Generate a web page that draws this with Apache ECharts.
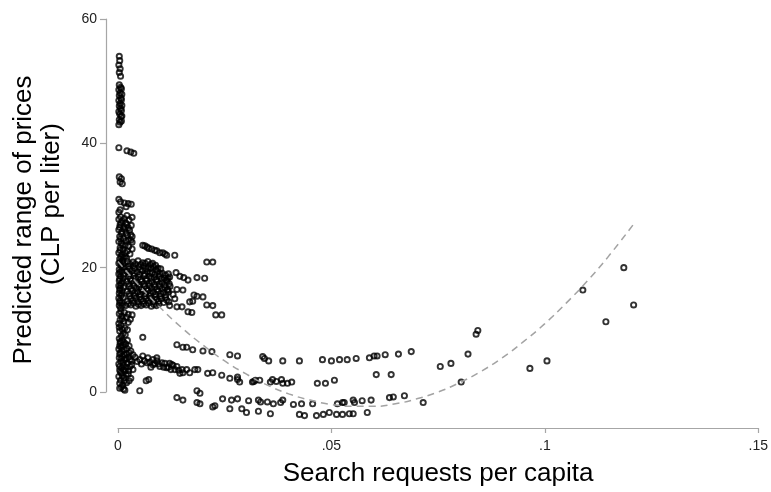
<!DOCTYPE html>
<html>
<head>
<meta charset="utf-8">
<script src="https://cdn.jsdelivr.net/npm/echarts@6/dist/echarts.min.js"></script>
<style>
html,body{margin:0;padding:0;background:#fff;}
#chart{width:771px;height:492px;}
</style>
</head>
<body>
<div id="chart"></div>
<script>
// ---- data (x = search requests per capita, y = predicted range) ----
var colTop = [
[0.0003,54.0],[0.0004,53.3],[0.0002,52.6],[0.0005,52.0],[0.0003,51.4],[0.0006,50.8],
[0.0003,49.4],[0.0006,49.0],[0.0002,48.6],[0.0005,48.1],[0.0003,47.7],[0.0007,47.3],
[0.0002,46.9],[0.0005,46.4],[0.0003,46.0],[0.0006,45.6],[0.0002,45.1],[0.0004,44.7],
[0.0007,44.3],[0.0003,43.8],[0.0005,43.4],[0.0002,43.0],
[0.0008,48.8],[0.0009,47.9],[0.0008,47.0],[0.0009,46.1],[0.0008,45.3],[0.0009,44.4],[0.0008,43.6],
[0.0002,39.3],[0.0021,38.8],[0.0030,38.6],[0.0037,38.4],
[0.0003,34.6],[0.0008,34.3],[0.0005,33.8],[0.0010,33.5],
[0.0002,31.0],[0.0006,30.6],[0.0015,30.4],[0.0024,30.3],[0.0031,30.2],[0.0019,29.8],
[0.0005,29.3],[0.0002,28.9],[0.0021,28.4],[0.0033,28.1]
];
var colMid = [
[0.0002,27.8],[0.0010,27.5],[0.0018,27.2],[0.0005,26.9],[0.0014,26.6],[0.0024,26.4],
[0.0002,26.1],[0.0009,25.8],[0.0019,25.6],[0.0030,25.3],[0.0004,25.0],[0.0013,24.7],
[0.0025,24.5],[0.0002,24.2],[0.0008,23.9],[0.0017,23.6],[0.0033,24.1],[0.0005,23.2],
[0.0012,22.9],[0.0022,22.7],[0.0002,22.4],[0.0009,22.1],[0.0016,21.8],[0.0004,21.4],
[0.0011,21.1],[0.0002,20.7],[0.0007,20.4],[0.0014,20.1],[0.0003,19.7],[0.0009,19.4],
[0.0002,19.0],[0.0006,18.6],[0.0012,18.3],[0.0003,17.9],[0.0008,17.5],[0.0002,17.1],
[0.0005,16.7],[0.0010,16.3],[0.0003,15.9],[0.0007,15.5],[0.0002,15.1],[0.0005,14.7],
[0.0009,14.3],[0.0003,13.9],
[0.0006,28.2],[0.0015,27.9],[0.0026,27.7],[0.0007,27.2],[0.0021,26.9],[0.0031,26.8],
[0.0004,26.5],[0.0016,26.2],[0.0027,26.0],[0.0008,25.5],[0.0022,25.2],[0.0033,25.0],
[0.0006,24.6],[0.0019,24.3],[0.0030,24.4],[0.0011,23.6],[0.0025,23.4],[0.0033,23.0],
[0.0005,22.8],[0.0017,22.4],[0.0028,22.2],[0.0007,21.8],[0.0020,21.5],[0.0012,21.6],
[0.0005,20.9],[0.0012,20.6],[0.0009,20.0],[0.0005,19.3],[0.0013,18.9],[0.0004,18.2],
[0.0011,17.8],[0.0006,17.2],[0.0013,16.8],[0.0004,16.4],[0.0009,15.8],[0.0012,15.2],
[0.0004,14.4],[0.0010,13.9],[0.0006,13.5]
];
var blobUpper = [
[0.0022,21.0],[0.0035,20.9],[0.0047,21.1],[0.0058,20.8],[0.0070,21.0],[0.0081,20.7],
[0.0024,20.2],[0.0036,20.3],[0.0049,20.1],[0.0060,20.3],[0.0071,20.0],[0.0083,20.2],[0.0094,19.9],
[0.0021,19.4],[0.0033,19.5],[0.0045,19.3],[0.0057,19.5],[0.0069,19.4],[0.0080,19.2],[0.0092,19.4],[0.0104,19.1],[0.0118,19.0],
[0.0025,18.6],[0.0037,18.7],[0.0048,18.5],[0.0061,18.7],[0.0073,18.6],[0.0085,18.4],[0.0097,18.6],[0.0109,18.3],[0.0121,18.5],
[0.0020,17.8],[0.0032,17.9],[0.0044,17.7],[0.0056,17.8],[0.0067,17.9],[0.0079,17.7],[0.0091,17.8],[0.0103,17.6],[0.0115,17.8],
[0.0026,17.0],[0.0038,17.1],[0.0050,16.9],[0.0062,17.0],[0.0074,17.1],[0.0086,16.9],[0.0098,17.0],[0.0110,16.8],[0.0122,17.0],
[0.0021,16.2],[0.0034,16.3],[0.0046,16.1],[0.0058,16.2],[0.0070,16.3],[0.0082,16.1],[0.0094,16.2],[0.0106,16.0],[0.0118,16.1],
[0.0027,15.4],[0.0039,15.5],[0.0051,15.3],[0.0063,15.4],[0.0075,15.5],[0.0087,15.3],[0.0099,15.4],[0.0111,15.2],
[0.0022,14.6],[0.0035,14.7],[0.0047,14.5],[0.0059,14.6],[0.0071,14.7],[0.0083,14.5],[0.0095,14.6],[0.0107,14.4],[0.0119,14.5],
[0.0018,13.9],[0.0030,14.0],[0.0042,13.8],[0.0054,13.9],[0.0066,14.0],[0.0078,13.8],[0.0090,13.9]
];
var blobFill = [
[0.0028,20.6],[0.0041,20.6],[0.0053,20.5],[0.0064,20.7],[0.0076,20.5],[0.0088,20.4],
[0.0027,19.8],[0.0039,19.9],[0.0052,19.7],[0.0065,19.8],[0.0077,19.9],[0.0089,19.7],[0.0100,19.8],
[0.0026,19.0],[0.0038,19.1],[0.0051,18.9],[0.0063,19.0],[0.0075,19.1],[0.0086,18.9],[0.0098,19.0],[0.0111,18.8],
[0.0029,18.2],[0.0041,18.3],[0.0053,18.1],[0.0066,18.2],[0.0078,18.3],[0.0090,18.1],[0.0102,18.2],[0.0114,18.0],
[0.0025,17.4],[0.0037,17.5],[0.0049,17.3],[0.0061,17.4],[0.0073,17.5],[0.0085,17.3],[0.0097,17.4],[0.0109,17.2],[0.0120,17.4],
[0.0030,16.6],[0.0043,16.7],[0.0055,16.5],[0.0067,16.6],[0.0079,16.7],[0.0091,16.5],[0.0104,16.6],[0.0116,16.4],
[0.0026,15.8],[0.0040,15.9],[0.0052,15.7],[0.0064,15.8],[0.0076,15.9],[0.0088,15.7],[0.0100,15.8],[0.0112,15.6],
[0.0030,15.0],[0.0042,15.1],[0.0054,14.9],[0.0066,15.0],[0.0078,15.1],[0.0090,14.9],[0.0102,15.0],[0.0114,14.8],
[0.0024,14.2],[0.0036,14.3],[0.0048,14.1],[0.0060,14.2],[0.0072,14.3],[0.0084,14.1],[0.0096,14.2]
];
var stripUpper = [
[0.0058,23.6],[0.0063,23.5],[0.0068,23.3],[0.0072,23.1],[0.0079,23.0],[0.0086,22.8],
[0.0091,22.7],[0.0098,22.4],[0.0105,22.4],[0.0110,22.2],[0.0114,22.0],[0.0133,22.0],
[0.0208,20.9],[0.0222,20.9],
[0.0117,18.3],[0.0136,19.2],[0.0145,18.6],[0.0154,18.4],[0.0164,18.0],[0.0185,18.4],[0.0203,18.3],
[0.0117,16.5],[0.0138,16.5],[0.0152,16.4],[0.0129,15.7],[0.0133,15.0],[0.0168,14.5],
[0.0178,15.6],[0.0185,15.4],[0.0199,15.3],[0.0208,14.0],[0.0222,13.9],[0.0175,14.6],
[0.0164,12.9],[0.0173,12.8],[0.0229,12.4],[0.0243,12.4],[0.0138,13.7],[0.0150,13.7],[0.0121,13.9]
];
var lowerCluster = [
[0.0003,12.6],[0.0009,12.2],[0.0015,12.8],[0.0024,12.5],[0.0033,12.4],[0.0005,11.6],
[0.0014,11.4],[0.0029,11.7],[0.0007,10.7],[0.0016,10.3],[0.0004,9.8],[0.0012,9.4],[0.0022,10.0],
[0.0003,8.6],[0.0010,8.3],[0.0005,7.9],[0.0018,7.7],[0.0026,7.4],[0.0008,7.2],[0.0002,6.9],
[0.0014,6.8],[0.0030,6.6],[0.0006,6.3],[0.0020,6.1],[0.0011,5.8],[0.0003,5.5],[0.0025,5.6],
[0.0016,5.2],[0.0007,4.9],[0.0032,5.0],[0.0002,4.5],[0.0013,4.3],[0.0022,4.6],[0.0009,3.9],
[0.0028,4.1],[0.0004,3.5],[0.0017,3.4],[0.0035,3.6],[0.0008,3.0],[0.0024,2.9],[0.0002,2.5],
[0.0014,2.3],[0.0030,2.2],[0.0006,1.9],[0.0020,1.5],[0.0011,1.1],[0.0004,0.6],[0.0016,0.3],
[0.0058,8.8],[0.0066,1.8],[0.0072,2.0],[0.0051,0.2],
[0.0007,12.9],[0.0020,12.0],[0.0010,11.8],[0.0024,11.2],[0.0002,11.0],[0.0010,10.1],
[0.0003,10.4],[0.0008,9.0],[0.0017,9.2],[0.0006,8.1],[0.0014,8.0],[0.0022,8.3],
[0.0011,7.5],[0.0004,7.4],[0.0021,7.0],[0.0009,6.6],[0.0026,6.3],[0.0015,6.0],
[0.0004,6.1],[0.0019,5.4],[0.0008,5.4],[0.0028,5.2],[0.0012,4.8],[0.0004,4.1],
[0.0019,4.0],[0.0032,4.4],[0.0013,3.6],[0.0025,3.4],[0.0006,3.2],[0.0019,2.8],
[0.0010,2.6],[0.0004,1.4],[0.0026,1.8],[0.0015,1.8],[0.0008,0.8],[0.0013,0.5]
];
var lowerStrip = [
[0.0035,6.0],[0.0051,5.2],[0.0058,5.8],[0.0068,4.7],[0.0070,5.5],[0.0082,5.2],[0.0082,4.4],
[0.0091,5.5],[0.0091,5.0],[0.0098,4.1],[0.0103,4.7],[0.0110,4.6],[0.0114,3.9],[0.0121,4.6],
[0.0126,4.4],[0.0129,4.3],[0.0133,3.6],[0.0138,4.1],[0.0150,3.6],[0.0152,3.1],[0.0161,3.6],
[0.0168,3.1],[0.0180,3.6],[0.0187,3.6],[0.0210,3.0],[0.0222,3.1],[0.0243,2.7],[0.0262,2.2],
[0.0280,2.4],[0.0318,1.7],[0.0280,2.0],[0.0285,1.6],[0.0315,1.6],[0.0322,1.9],[0.0332,1.9],
[0.0357,1.6],[0.0362,2.0],[0.0371,1.7],[0.0383,2.0],[0.0386,1.4],[0.0397,1.4],[0.0407,1.6],
[0.0467,1.4],[0.0486,1.4],[0.0507,1.9],[0.0605,2.8],[0.0640,2.8],
[0.0040,5.6],[0.0045,4.9],[0.0055,4.5],[0.0062,5.0],[0.0075,4.8],[0.0077,4.0],[0.0086,4.6],
[0.0095,4.5],[0.0107,4.0],[0.0118,4.0],[0.0124,3.6],[0.0142,3.5],[0.0145,3.0]
];
var midStrip = [
[0.0138,7.6],[0.0152,7.2],[0.0161,7.2],[0.0175,6.8],[0.0199,6.6],[0.0220,6.5],[0.0262,6.0],
[0.0280,5.8],[0.0339,5.7],[0.0343,5.4],[0.0353,5.0],[0.0386,5.0],[0.0425,5.0],[0.0479,5.2],
[0.0500,5.0],[0.0519,5.2],[0.0537,5.2],[0.0558,5.4],[0.0589,5.5],[0.0600,5.8],[0.0607,5.8],
[0.0626,6.0],[0.0657,6.1],[0.0687,6.5]
];
var bottomRows = [
[0.0138,-0.9],[0.0152,-1.3],[0.0185,0.2],[0.0192,-0.2],[0.0185,-1.7],[0.0192,-1.9],
[0.0222,-2.4],[0.0227,-2.2],[0.0245,-1.1],[0.0262,-2.7],[0.0266,-1.3],
[0.0280,-1.1],[0.0306,-1.4],[0.0329,-1.3],[0.0334,-1.6],[0.0350,-1.6],[0.0364,-1.9],
[0.0381,-1.7],[0.0386,-1.3],[0.0411,-2.0],[0.0430,-1.9],[0.0456,-1.9],[0.0514,-1.9],
[0.0526,-1.7],[0.0530,-1.7],[0.0551,-1.3],[0.0554,-1.7],[0.0572,-1.4],[0.0593,-1.3],
[0.0636,-0.9],[0.0645,-0.8],[0.0671,-0.6],[0.0715,-1.7],
[0.0290,-2.7],[0.0301,-3.3],[0.0329,-3.1],[0.0357,-3.5],[0.0425,-3.6],[0.0437,-3.8],
[0.0465,-3.8],[0.0481,-3.6],[0.0495,-3.3],[0.0512,-3.6],[0.0526,-3.6],[0.0542,-3.5],
[0.0551,-3.5],[0.0584,-3.3]
];
var rightPoints = [
[0.0755,4.1],[0.0780,4.6],[0.0820,6.1],[0.0839,9.3],[0.0843,9.9],[0.0804,1.6],
[0.0965,3.8],[0.1005,5.0],[0.1089,16.4],[0.1143,11.3],[0.1185,20.0],[0.1208,14.0]
];
// fitted quadratic (dashed)
var fitX = [0,0.005,0.01,0.015,0.02,0.025,0.03,0.035,0.04,0.045,0.05,0.055,0.06,0.065,0.07,0.075,0.08,0.085,0.09,0.095,0.1,0.105,0.11,0.115,0.121];
var fitY = [21.0,17.1,13.5,10.3,7.5,5.0,2.9,1.1,-0.3,-1.3,-2.0,-2.3,-2.3,-1.9,-1.1,0.0,1.5,3.3,5.5,8.1,11.0,14.3,17.9,21.9,27.2];
var xTickValues = [0,0.05,0.1,0.15];
var xTickLabels = ['0','.05','.1','.15'];
var yTickLabels = ['0','20','40','60'];
var yTitleLines = ['Predicted range of prices','(CLP per liter)'];
var xTitle = 'Search requests per capita';

var FONT = '"Liberation Sans", Arial, Helvetica, sans-serif';
var scatterPts = [].concat(colTop, colMid, blobUpper, blobFill, stripUpper, lowerCluster, lowerStrip, midStrip, bottomRows, rightPoints);
var fitPts = fitX.map(function(x,i){return [x, fitY[i]];});

var chart = echarts.init(document.getElementById('chart'), null, {renderer:'canvas'});
chart.setOption({
  animation:false,
  backgroundColor:'#ffffff',
  grid:{left:118, right:12, top:19, bottom:92, containLabel:false},
  graphic:[
    {type:'text', x:24, y:220, rotation:Math.PI/2, z:10,
     style:{text:yTitleLines[0], font:'26px '+FONT, fill:'#000', align:'center', verticalAlign:'middle'}},
    {type:'text', x:52, y:204, rotation:Math.PI/2, z:10,
     style:{text:yTitleLines[1], font:'26px '+FONT, fill:'#000', align:'center', verticalAlign:'middle'}}
  ],
  xAxis:{
    type:'value', min:0, max:0.15, interval:0.05, offset:36,
    splitLine:{show:false},
    axisLine:{show:true, onZero:false, lineStyle:{color:'#a6a6a6', width:1.2}},
    axisTick:{show:true, length:5, lineStyle:{color:'#a6a6a6', width:1.2}},
    axisLabel:{margin:11, color:'#222', fontFamily:FONT, fontSize:14,
      formatter:function(v){
        for (var i=0;i<xTickValues.length;i++){ if (Math.abs(v-xTickValues[i])<1e-9) return xTickLabels[i]; }
        return '';
      }},
    name:xTitle, nameLocation:'middle', nameGap:33,
    nameTextStyle:{fontFamily:FONT, fontSize:26, color:'#000'}
  },
  yAxis:{
    type:'value', min:0, max:60, interval:20, offset:12,
    splitLine:{show:false},
    axisLine:{show:true, onZero:false, lineStyle:{color:'#a6a6a6', width:1.2}},
    axisTick:{show:true, length:6, lineStyle:{color:'#a6a6a6', width:1.2}},
    axisLabel:{margin:9, color:'#222', fontFamily:FONT, fontSize:14,
      formatter:function(v){ return yTickLabels[Math.round(v/20)]; }}
  },
  series:[
    {type:'scatter', data:scatterPts, symbol:'circle', symbolSize:5.2, clip:false,
     itemStyle:{color:'rgba(0,0,0,0)', borderColor:'#000', borderWidth:1.9}, z:2},
    {type:'line', data:fitPts, smooth:true, showSymbol:false, clip:false,
     lineStyle:{color:'#a3a3a3', width:1.5, type:[7,5]}, z:3}
  ]
});
</script>
</body>
</html>
